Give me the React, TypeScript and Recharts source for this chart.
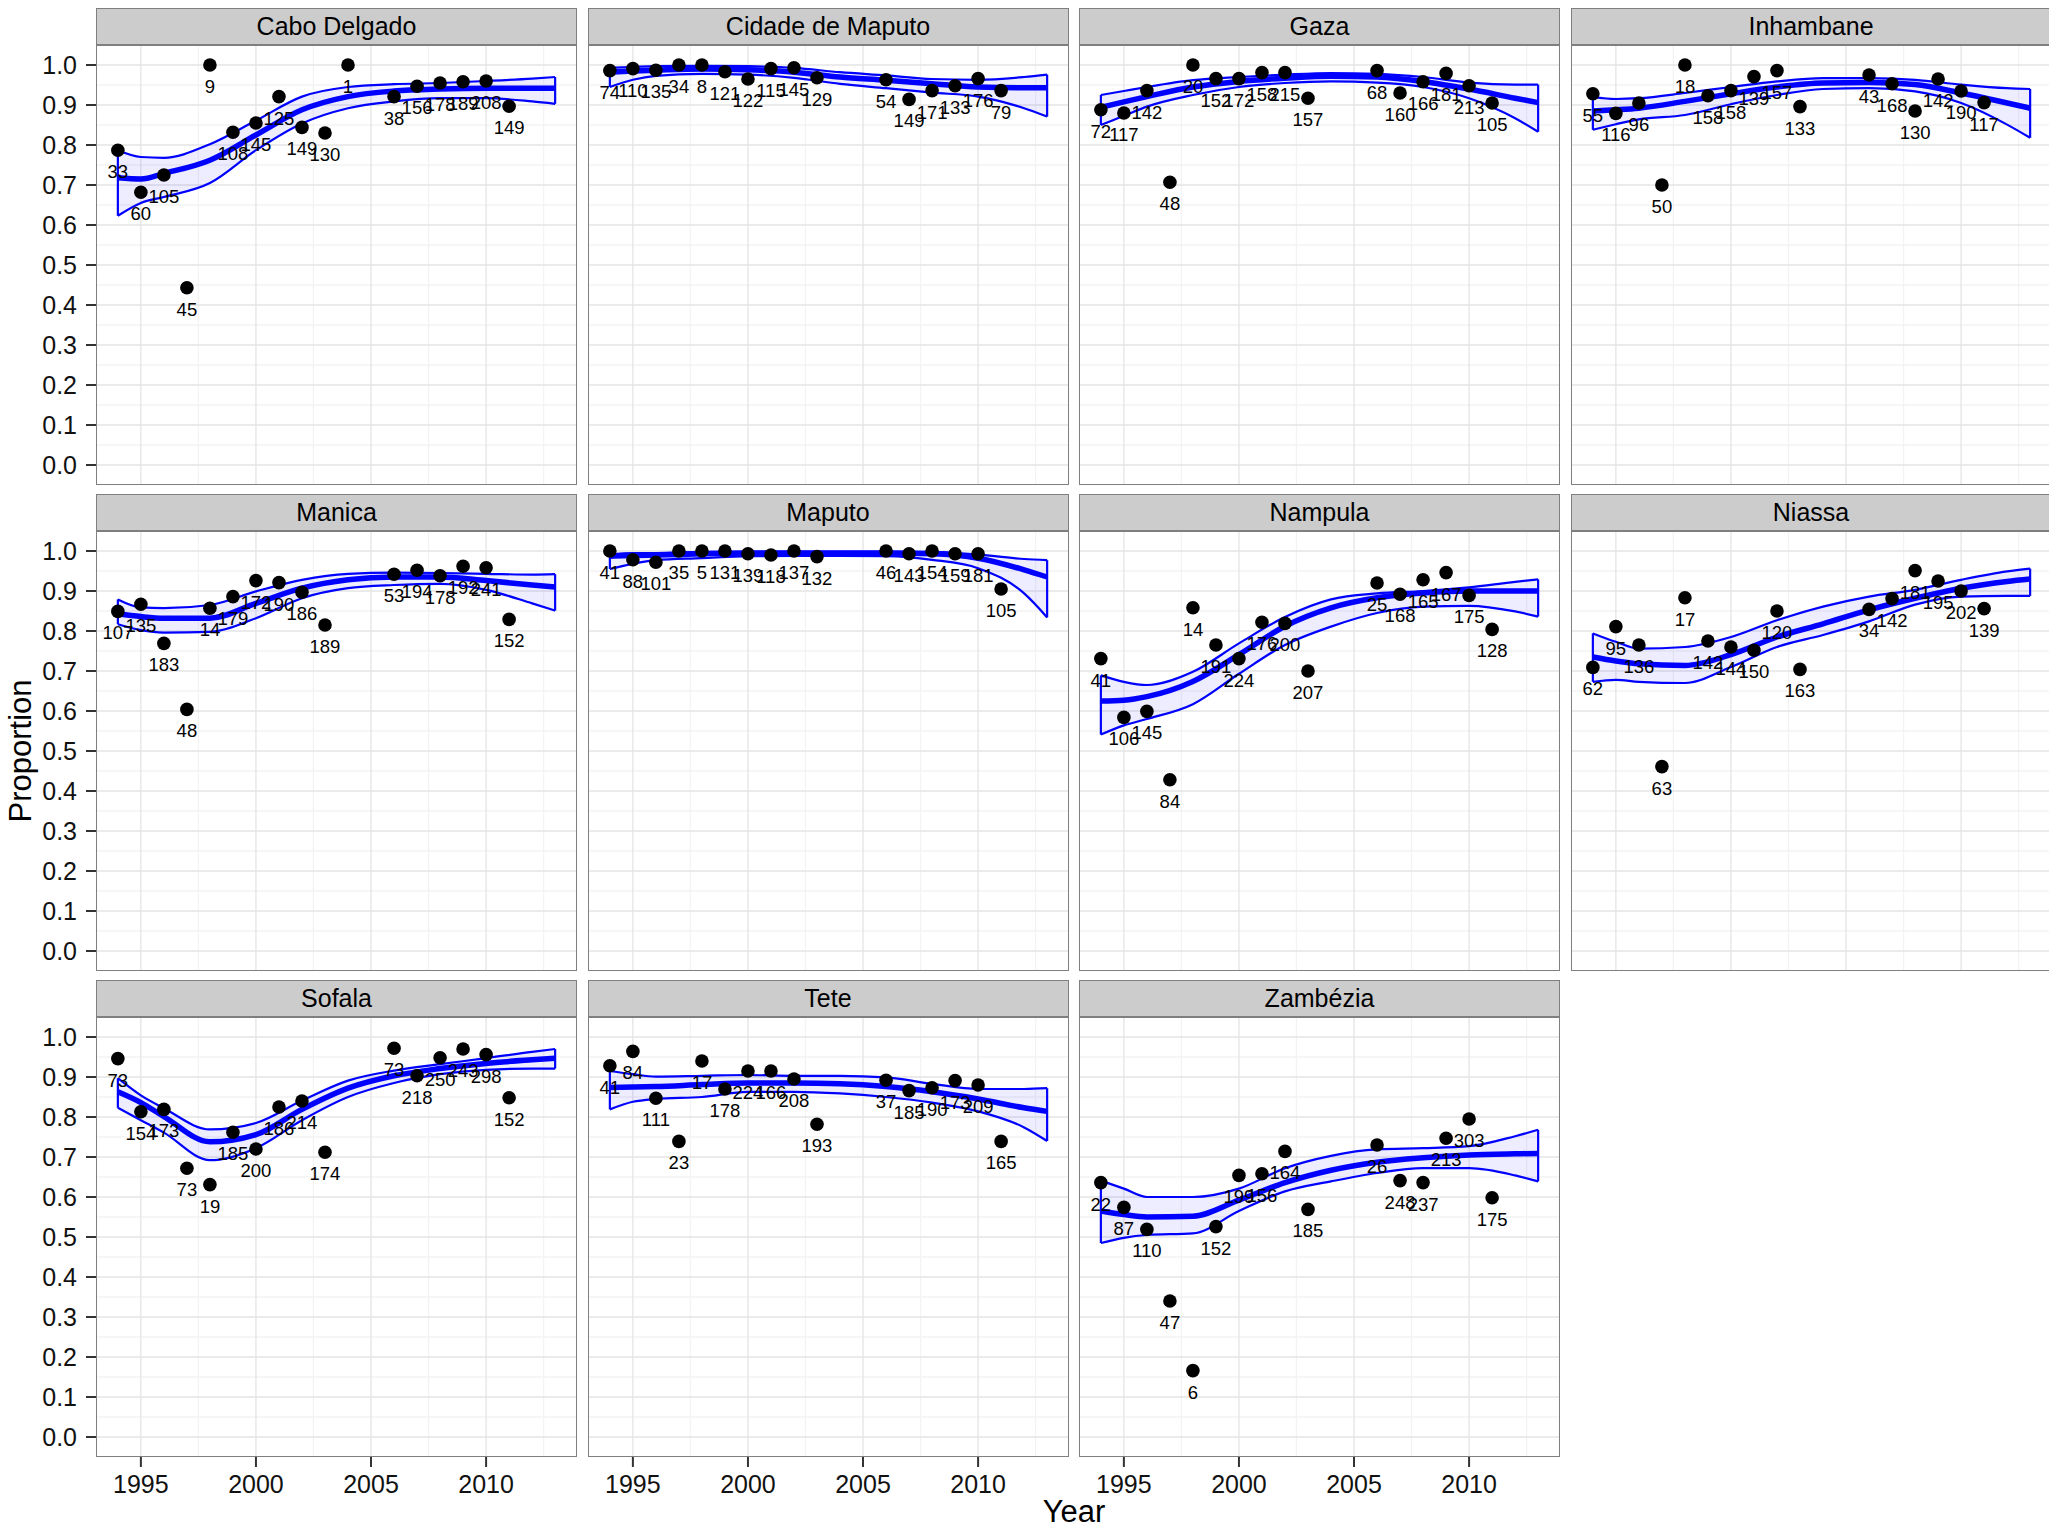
import React from 'react'
import { ComposedChart, XAxis, YAxis, CartesianGrid, Area, Line, Scatter, ReferenceLine } from 'recharts'

// years with an observation (Cabo Delgado also has 2004)
const pointYears = [1994, 1995, 1996, 1997, 1998, 1999, 2000, 2001, 2002, 2003, 2006, 2007, 2008, 2009, 2010, 2011]
const caboYears = [1994, 1995, 1996, 1997, 1998, 1999, 2000, 2001, 2002, 2003, 2004, 2006, 2007, 2008, 2009, 2010, 2011]
const smoothYears = [1994, 1995, 1996, 1998, 2000, 2002, 2004, 2006, 2008, 2010, 2012, 2013]

const yTicks = [0, 0.1, 0.2, 0.3, 0.4, 0.5, 0.6, 0.7, 0.8, 0.9, 1.0]
const yMinor = [0.05, 0.15, 0.25, 0.35, 0.45, 0.55, 0.65, 0.75, 0.85, 0.95]
const xTicks = [1995, 2000, 2005, 2010]
const xMinor = [1997.5, 2002.5, 2007.5, 2012.5]

const caboProp = [0.787, 0.682, 0.725, 0.443, 1.0, 0.832, 0.855, 0.921, 0.844, 0.83, 1.0, 0.921, 0.947, 0.955, 0.958, 0.96, 0.897]
const caboN = [33, 60, 105, 45, 9, 108, 145, 125, 149, 130, 1, 38, 156, 178, 189, 208, 149]
const caboFit = [0.718, 0.715, 0.729, 0.762, 0.825, 0.888, 0.921, 0.935, 0.94, 0.942, 0.942, 0.942]
const caboHi = [0.787, 0.77, 0.768, 0.802, 0.861, 0.921, 0.945, 0.952, 0.955, 0.96, 0.966, 0.97]
const caboLo = [0.623, 0.655, 0.67, 0.705, 0.787, 0.854, 0.892, 0.909, 0.917, 0.917, 0.909, 0.903]

const cidadeProp = [0.986, 0.991, 0.987, 1.0, 1.0, 0.983, 0.965, 0.991, 0.993, 0.968, 0.963, 0.914, 0.936, 0.948, 0.966, 0.936]
const cidadeN = [74, 110, 135, 34, 8, 121, 122, 115, 145, 129, 54, 149, 171, 133, 176, 79]
const cidadeFit = [0.982, 0.985, 0.987, 0.99, 0.988, 0.982, 0.97, 0.962, 0.953, 0.945, 0.943, 0.943]
const cidadeHi = [0.993, 0.995, 0.997, 0.998, 0.997, 0.993, 0.982, 0.974, 0.965, 0.963, 0.97, 0.976]
const cidadeLo = [0.945, 0.963, 0.973, 0.978, 0.976, 0.968, 0.953, 0.942, 0.931, 0.921, 0.892, 0.871]

const gazaProp = [0.888, 0.88, 0.936, 0.707, 1.0, 0.966, 0.966, 0.981, 0.981, 0.917, 0.986, 0.93, 0.958, 0.979, 0.948, 0.905]
const gazaN = [72, 117, 142, 48, 20, 152, 172, 158, 215, 157, 68, 160, 166, 181, 213, 105]
const gazaFit = [0.894, 0.908, 0.921, 0.945, 0.959, 0.967, 0.972, 0.97, 0.959, 0.94, 0.917, 0.906]
const gazaHi = [0.925, 0.935, 0.945, 0.962, 0.97, 0.976, 0.98, 0.978, 0.97, 0.956, 0.951, 0.951]
const gazaLo = [0.85, 0.873, 0.896, 0.925, 0.945, 0.955, 0.959, 0.956, 0.945, 0.917, 0.867, 0.833]

const inhambaneProp = [0.928, 0.879, 0.905, 0.7, 1.0, 0.923, 0.936, 0.971, 0.986, 0.896, 0.975, 0.953, 0.885, 0.965, 0.935, 0.906]
const inhambaneN = [55, 116, 96, 50, 18, 158, 158, 139, 157, 133, 43, 168, 130, 142, 190, 117]
const inhambaneFit = [0.885, 0.888, 0.892, 0.909, 0.928, 0.945, 0.955, 0.956, 0.951, 0.93, 0.905, 0.892]
const inhambaneHi = [0.92, 0.915, 0.917, 0.93, 0.945, 0.959, 0.967, 0.967, 0.963, 0.951, 0.942, 0.94]
const inhambaneLo = [0.838, 0.852, 0.864, 0.875, 0.902, 0.925, 0.94, 0.942, 0.934, 0.905, 0.851, 0.818]

const manicaProp = [0.849, 0.867, 0.769, 0.604, 0.857, 0.886, 0.926, 0.921, 0.897, 0.815, 0.942, 0.952, 0.938, 0.962, 0.958, 0.829]
const manicaN = [107, 135, 183, 48, 14, 179, 172, 190, 186, 189, 53, 194, 178, 192, 241, 152]
const manicaFit = [0.843, 0.836, 0.832, 0.832, 0.869, 0.907, 0.928, 0.935, 0.935, 0.926, 0.915, 0.91]
const manicaHi = [0.879, 0.859, 0.857, 0.865, 0.899, 0.928, 0.943, 0.946, 0.945, 0.943, 0.941, 0.942]
const manicaLo = [0.817, 0.802, 0.796, 0.798, 0.832, 0.882, 0.907, 0.915, 0.918, 0.903, 0.869, 0.851]

const maputoProp = [1.0, 0.978, 0.972, 1.0, 1.0, 1.0, 0.993, 0.99, 1.0, 0.986, 1.0, 0.993, 1.0, 0.993, 0.993, 0.905]
const maputoN = [41, 88, 101, 35, 5, 131, 139, 118, 137, 132, 46, 143, 154, 159, 181, 105]
const maputoFit = [0.987, 0.989, 0.99, 0.993, 0.995, 0.995, 0.995, 0.995, 0.993, 0.982, 0.953, 0.935]
const maputoHi = [0.992, 0.995, 0.995, 0.998, 0.998, 0.998, 0.998, 0.998, 0.998, 0.991, 0.98, 0.977]
const maputoLo = [0.955, 0.968, 0.977, 0.982, 0.987, 0.988, 0.988, 0.987, 0.978, 0.957, 0.894, 0.834]

const nampulaProp = [0.731, 0.584, 0.599, 0.428, 0.858, 0.765, 0.731, 0.822, 0.819, 0.7, 0.92, 0.892, 0.928, 0.946, 0.889, 0.804]
const nampulaN = [41, 106, 145, 84, 14, 191, 224, 176, 200, 207, 25, 168, 165, 167, 175, 128]
const nampulaFit = [0.625, 0.627, 0.636, 0.674, 0.741, 0.812, 0.858, 0.883, 0.895, 0.9, 0.9, 0.9]
const nampulaHi = [0.689, 0.673, 0.665, 0.698, 0.769, 0.835, 0.879, 0.894, 0.9, 0.909, 0.923, 0.929]
const nampulaLo = [0.541, 0.564, 0.58, 0.617, 0.693, 0.765, 0.811, 0.845, 0.861, 0.863, 0.849, 0.836]

const niassaProp = [0.709, 0.811, 0.765, 0.461, 0.883, 0.775, 0.76, 0.752, 0.85, 0.704, 0.854, 0.881, 0.951, 0.925, 0.9, 0.856]
const niassaN = [62, 95, 136, 63, 17, 142, 144, 150, 120, 163, 34, 142, 181, 195, 202, 139]
const niassaFit = [0.735, 0.725, 0.718, 0.714, 0.741, 0.785, 0.818, 0.853, 0.882, 0.907, 0.924, 0.93]
const niassaHi = [0.794, 0.773, 0.756, 0.76, 0.785, 0.827, 0.861, 0.886, 0.903, 0.928, 0.949, 0.956]
const niassaLo = [0.673, 0.678, 0.673, 0.67, 0.71, 0.76, 0.79, 0.824, 0.866, 0.886, 0.888, 0.888]

const sofalaProp = [0.946, 0.813, 0.819, 0.672, 0.631, 0.762, 0.72, 0.825, 0.84, 0.712, 0.972, 0.903, 0.948, 0.97, 0.956, 0.848]
const sofalaN = [73, 154, 173, 73, 19, 185, 200, 186, 214, 174, 73, 218, 250, 243, 298, 152]
const sofalaFit = [0.863, 0.836, 0.801, 0.738, 0.756, 0.819, 0.872, 0.903, 0.921, 0.934, 0.943, 0.947]
const sofalaHi = [0.897, 0.854, 0.822, 0.769, 0.785, 0.841, 0.891, 0.916, 0.932, 0.947, 0.963, 0.97]
const sofalaLo = [0.823, 0.792, 0.761, 0.692, 0.722, 0.792, 0.85, 0.885, 0.907, 0.918, 0.921, 0.921]

const teteProp = [0.928, 0.964, 0.847, 0.739, 0.94, 0.87, 0.915, 0.915, 0.895, 0.782, 0.892, 0.866, 0.873, 0.891, 0.88, 0.739]
const teteN = [41, 84, 111, 23, 17, 178, 224, 166, 208, 193, 37, 185, 190, 173, 209, 165]
const teteFit = [0.874, 0.875, 0.876, 0.881, 0.885, 0.885, 0.883, 0.876, 0.863, 0.845, 0.823, 0.814]
const teteHi = [0.915, 0.907, 0.901, 0.903, 0.905, 0.903, 0.903, 0.899, 0.883, 0.87, 0.87, 0.872]
const teteLo = [0.819, 0.838, 0.845, 0.85, 0.863, 0.863, 0.859, 0.85, 0.836, 0.814, 0.774, 0.74]

const zambeziaProp = [0.636, 0.574, 0.519, 0.34, 0.166, 0.526, 0.654, 0.658, 0.714, 0.569, 0.73, 0.641, 0.636, 0.747, 0.795, 0.598]
const zambeziaN = [22, 87, 110, 47, 6, 152, 199, 156, 164, 185, 26, 248, 237, 213, 303, 175]
const zambeziaFit = [0.565, 0.556, 0.55, 0.552, 0.592, 0.636, 0.667, 0.687, 0.698, 0.705, 0.708, 0.709]
const zambeziaHi = [0.641, 0.621, 0.6, 0.6, 0.621, 0.672, 0.703, 0.719, 0.722, 0.727, 0.752, 0.768]
const zambeziaLo = [0.485, 0.498, 0.505, 0.509, 0.565, 0.614, 0.639, 0.66, 0.672, 0.672, 0.654, 0.639]

const panels = [
  { name: 'Cabo Delgado', years: caboYears, prop: caboProp, n: caboN, fit: caboFit, hi: caboHi, lo: caboLo },
  { name: 'Cidade de Maputo', years: pointYears, prop: cidadeProp, n: cidadeN, fit: cidadeFit, hi: cidadeHi, lo: cidadeLo },
  { name: 'Gaza', years: pointYears, prop: gazaProp, n: gazaN, fit: gazaFit, hi: gazaHi, lo: gazaLo },
  { name: 'Inhambane', years: pointYears, prop: inhambaneProp, n: inhambaneN, fit: inhambaneFit, hi: inhambaneHi, lo: inhambaneLo },
  { name: 'Manica', years: pointYears, prop: manicaProp, n: manicaN, fit: manicaFit, hi: manicaHi, lo: manicaLo },
  { name: 'Maputo', years: pointYears, prop: maputoProp, n: maputoN, fit: maputoFit, hi: maputoHi, lo: maputoLo },
  { name: 'Nampula', years: pointYears, prop: nampulaProp, n: nampulaN, fit: nampulaFit, hi: nampulaHi, lo: nampulaLo },
  { name: 'Niassa', years: pointYears, prop: niassaProp, n: niassaN, fit: niassaFit, hi: niassaHi, lo: niassaLo },
  { name: 'Sofala', years: pointYears, prop: sofalaProp, n: sofalaN, fit: sofalaFit, hi: sofalaHi, lo: sofalaLo },
  { name: 'Tete', years: pointYears, prop: teteProp, n: teteN, fit: teteFit, hi: teteHi, lo: teteLo },
  { name: 'Zambézia', years: pointYears, prop: zambeziaProp, n: zambeziaN, fit: zambeziaFit, hi: zambeziaHi, lo: zambeziaLo },
]

const FONT = '"Liberation Sans", Arial, Helvetica, sans-serif'
const PLOT_W = 481
const PLOT_H = 440
const STRIP_H = 37
const Y_AXIS_W = 96
const X_AXIS_H = 70
const COL_X = [96, 587.5, 1079, 1570.5]
const ROW_Y = [8, 494, 980]
const BLUE = '#0000ff'
const BORDER = '#7f7f7f'

const Dot = (props: any) => <circle cx={props.cx} cy={props.cy} r={6.8} fill="#000" />
const DotLabel = (props: any) => (
  <text x={props.cx} y={props.cy + 28} textAnchor="middle" fontSize={18.5} fontFamily={FONT} fill="#000">
    {props.payload.n}
  </text>
)

function Panel({ p, idx }: { p: any; idx: number }) {
  const col = idx % 4
  const row = Math.floor(idx / 4)
  const showY = col === 0
  const showX = row === 2
  const fitRows = smoothYears.map((year, i) => ({ year, fit: p.fit[i], band: [p.lo[i], p.hi[i]] }))
  const pts = p.years.map((year: number, i: number) => ({ year, prop: p.prop[i], n: p.n[i] }))
  const first = smoothYears[0]
  const last = smoothYears[smoothYears.length - 1]
  const nLast = smoothYears.length - 1
  const plotTop = ROW_Y[row] + STRIP_H
  const tickStyle = { fontSize: 25, fontFamily: FONT, fill: '#111' }

  return (
    <>
      <div
        style={{
          position: 'absolute', left: COL_X[col], top: ROW_Y[row], width: PLOT_W, height: STRIP_H,
          boxSizing: 'border-box', background: '#cccccc', border: `1.5px solid ${BORDER}`,
          fontFamily: FONT, fontSize: 25, color: '#000', textAlign: 'center', lineHeight: `${STRIP_H - 3}px`,
        }}
      >
        {p.name}
      </div>
      <div style={{ position: 'absolute', left: COL_X[col] - (showY ? Y_AXIS_W : 0), top: plotTop }}>
        <ComposedChart
          width={PLOT_W + (showY ? Y_AXIS_W : 0)}
          height={PLOT_H + (showX ? X_AXIS_H : 0)}
          data={fitRows}
          margin={{ top: 0, right: 0, bottom: 0, left: 0 }}
        >
          <CartesianGrid horizontalValues={yMinor} verticalValues={xMinor} stroke="#f3f3f3" strokeWidth={1.3} />
          <CartesianGrid horizontalValues={yTicks} verticalValues={xTicks} stroke="#e4e4e4" strokeWidth={1.3} />
          <XAxis
            dataKey="year" type="number" domain={[1993.05, 2013.95]} ticks={xTicks} allowDataOverflow
            hide={!showX} height={X_AXIS_H} axisLine={false} tickSize={10} tickMargin={8}
            tickLine={{ stroke: '#333', strokeWidth: 2 }} tick={tickStyle}
          />
          <YAxis
            type="number" domain={[-0.05, 1.05]} ticks={yTicks} allowDataOverflow
            hide={!showY} width={Y_AXIS_W} axisLine={false} tickSize={10} tickMargin={9}
            tickLine={{ stroke: '#333', strokeWidth: 2 }} tick={tickStyle}
            tickFormatter={(v: number) => v.toFixed(1)}
          />
          <Area
            type="monotone" dataKey="band" stroke={BLUE} strokeWidth={2.2}
            fill={BLUE} fillOpacity={0.07} isAnimationActive={false}
          />
          <ReferenceLine segment={[{ x: first, y: p.lo[0] }, { x: first, y: p.hi[0] }]} stroke={BLUE} strokeWidth={2.2} />
          <ReferenceLine segment={[{ x: last, y: p.lo[nLast] }, { x: last, y: p.hi[nLast] }]} stroke={BLUE} strokeWidth={2.2} />
          <Line type="monotone" dataKey="fit" stroke={BLUE} strokeWidth={5.5} dot={false} isAnimationActive={false} />
          <Scatter data={pts} dataKey="prop" shape={Dot} isAnimationActive={false} />
          <Scatter data={pts} dataKey="prop" shape={DotLabel} isAnimationActive={false} />
        </ComposedChart>
      </div>
      <div
        style={{
          position: 'absolute', left: COL_X[col], top: plotTop, width: PLOT_W, height: PLOT_H,
          boxSizing: 'border-box', border: `1.5px solid ${BORDER}`, pointerEvents: 'none',
        }}
      />
    </>
  )
}

export default function App() {
  return (
    <div style={{ position: 'absolute', left: 0, top: 0, width: 2049, height: 1530, overflow: 'hidden', background: '#fff' }}>
      {panels.map((p, i) => (
        <Panel key={p.name} p={p} idx={i} />
      ))}
      <div
        style={{
          position: 'absolute', left: 20, top: 751, transform: 'translate(-50%, -50%) rotate(-90deg)',
          fontFamily: FONT, fontSize: 31, color: '#000', whiteSpace: 'nowrap', lineHeight: '31px',
        }}
      >
        Proportion
      </div>
      <div
        style={{
          position: 'absolute', left: 1074, top: 1496, transform: 'translateX(-50%)',
          fontFamily: FONT, fontSize: 31, color: '#000', whiteSpace: 'nowrap', lineHeight: '31px',
        }}
      >
        Year
      </div>
    </div>
  )
}
